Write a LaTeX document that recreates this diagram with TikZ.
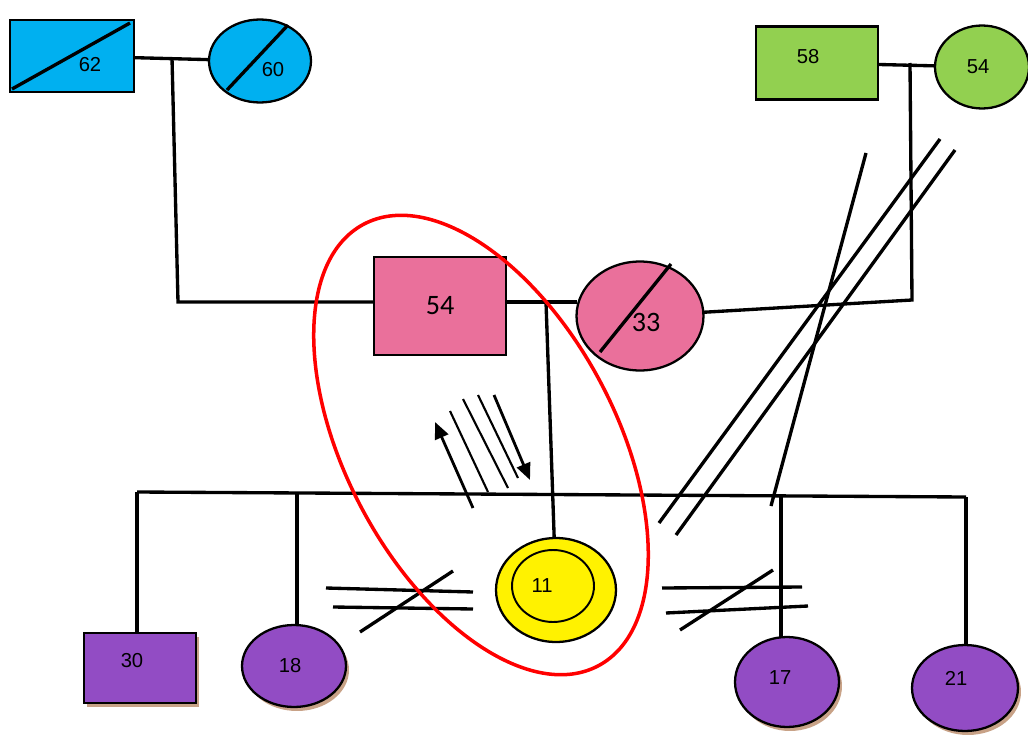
\documentclass[tikz,border=0pt]{standalone}
\usepackage{fontspec}
\setmainfont{Liberation Sans}
\newfontfamily\calibri{Carlito}
\usetikzlibrary{shapes.geometric,shadows,arrows.meta}
\definecolor{kinblue}{RGB}{0,176,240}
\definecolor{kingreen}{RGB}{146,208,80}
\definecolor{kinpink}{RGB}{234,112,155}
\definecolor{kinpurple}{RGB}{146,76,196}
\definecolor{kinshadow}{RGB}{200,162,135}
\definecolor{kinred}{RGB}{255,0,0}
\tikzset{%
  kin/.style = { line width=1.9pt },
  hatch/.style = { line width=1.2pt },
  marker/.style = { line width=1.6pt, >={Triangle[length=9.5pt,width=8pt]} },
  male/.style = { rectangle, draw, line width=1.3pt, inner sep=0pt, outer sep=0pt },
  female/.style = { ellipse, draw, line width=1.3pt, inner sep=0pt, outer sep=0pt },
  lbl/.style = { font=\fontsize{11.5}{13}\selectfont, inner sep=0pt },
  biglbl/.style = { font=\calibri\fontsize{16}{18}\selectfont },
  shade/.style = { drop shadow={shadow xshift=0.06cm, shadow yshift=-0.08cm, fill=kinshadow, opacity=1} }
}

\begin{document}
\begin{tikzpicture}[x=0.02cm, y=-0.02cm]

  \useasboundingbox (0,0) rectangle (1028,737);

  % Grandparents (left)
  \node[male, fill=kinblue, minimum width=2.48cm, minimum height=1.44cm,
        label={[lbl, xshift=.36cm, yshift=-.18cm]center:62}] (g62) at (72,56) {};
  \node[female, fill=kinblue, minimum width=2.04cm, minimum height=1.66cm,
        label={[lbl, xshift=.26cm, yshift=-.18cm]center:60}] (g60) at (260,61) {};
  \draw[kin] ([shift={(-60,33)}]g62.center) -- ([shift={(58,-33)}]g62.center);
  \draw[kin] ([shift={(-33,29)}]g60.center) -- ([shift={(28,-36)}]g60.center);

  % Grandparents (right)
  \node[male, fill=kingreen, minimum width=2.44cm, minimum height=1.46cm,
        label={[lbl, xshift=-.18cm, yshift=.13cm]center:58}] (g58) at (817,63) {};
  \node[female, fill=kingreen, minimum width=1.88cm, minimum height=1.66cm,
        label={[lbl, xshift=-.08cm]center:54}] (g54) at (982,67) {};

  % Parents
  \node[male, fill=kinpink, minimum width=2.64cm, minimum height=1.96cm, biglbl] (p54) at (440,306) {54};
  \node[female, fill=kinpink, minimum width=2.54cm, minimum height=2.18cm,
        label={[biglbl, inner sep=0pt, xshift=.12cm, yshift=-.12cm]center:33}] (p33) at (640,316) {};
  \draw[kin] ([shift={(-40,36)}]p33.center) -- ([shift={(31,-52)}]p33.center);

  % Couple lines and descent
  \coordinate (d1) at (172,58);
  \coordinate (d1b) at (178,302);
  \draw[kin] (g62) -- (g60);
  \draw[kin] (d1) -- (d1b) -- (d1b -| p54.west);

  \coordinate (d2) at (910,63);
  \coordinate (d2b) at (912,300);
  \draw[kin] (g58) -- (g54);
  \draw[kin] (d2) -- (d2b) -- (p33);

  \coordinate (d3) at (546,302);
  \draw[kin] (d3 -| p54.east) -- (d3 -| p33.west);

  % Children
  \node[male, fill=kinpurple, shade, minimum width=2.24cm, minimum height=1.40cm,
        label={[lbl, xshift=-.16cm, yshift=.14cm]center:30}] (c30) at (140,668) {};
  \node[female, fill=kinpurple, shade, minimum width=2.08cm, minimum height=1.64cm,
        label={[lbl, xshift=-.08cm]center:18}] (c18) at (294,666) {};
  \node[female, fill=yellow, minimum width=2.40cm, minimum height=2.08cm] (c11) at (556,590) {};
  \node[female, fill=yellow, line width=1.1pt, minimum width=1.64cm, minimum height=1.44cm,
        label={[lbl, xshift=-.22cm]center:11}] (c11in) at (553,586) {};
  \node[female, fill=kinpurple, shade, minimum width=2.08cm, minimum height=1.80cm,
        label={[lbl, xshift=-.14cm, yshift=.08cm]center:17}] (c17) at (787,682) {};
  \node[female, fill=kinpurple, shade, minimum width=2.12cm, minimum height=1.72cm,
        label={[lbl, xshift=-.18cm, yshift=.2cm]center:21}] (c21) at (965,688) {};

  % Sibship line
  \coordinate (s30) at (137,492);
  \coordinate (s18) at (297,493);
  \coordinate (s17) at (781,496);
  \coordinate (s21) at (966,497);
  \draw[kin] (s30) -- (s21);
  \draw[kin] (s30) -- (s30 |- c30.north);
  \draw[kin] (s18) -- (s18 |- c18.north);
  \draw[kin] (s17) -- (s17 |- c17.north);
  \draw[kin] (s21) -- (s21 |- c21.north);
  \draw[kin] (d3) -- (c11);

  % Crossed-out lines
  \draw[kin] (326,588) -- (473,592);
  \draw[kin] (333,607) -- (473,609);
  \draw[kin] (360,632) -- (453,571);
  \draw[kin] (662,588) -- (802,587);
  \draw[kin] (666,613) -- (808,606);
  \draw[kin] (680,630) -- (773,570);
  \draw[kin] (940,139) -- (659,523);
  \draw[kin] (955,150) -- (676,535);
  \draw[kin] (866,153) -- (771,506);

  % Arrows and hatching
  \draw[marker,->] (473,508) -- (435,422);
  \draw[hatch] (450,411) -- (488,492);
  \draw[hatch] (463,399) -- (508,488);
  \draw[hatch] (478,395) -- (518,478);
  \draw[marker,->] (494,395) -- (530,480);

  % Proband circle
  \draw[kinred, line width=2pt, rotate around={28:(481,445)}] (481,445) ellipse [x radius=135, y radius=250];

\end{tikzpicture}
\end{document}
